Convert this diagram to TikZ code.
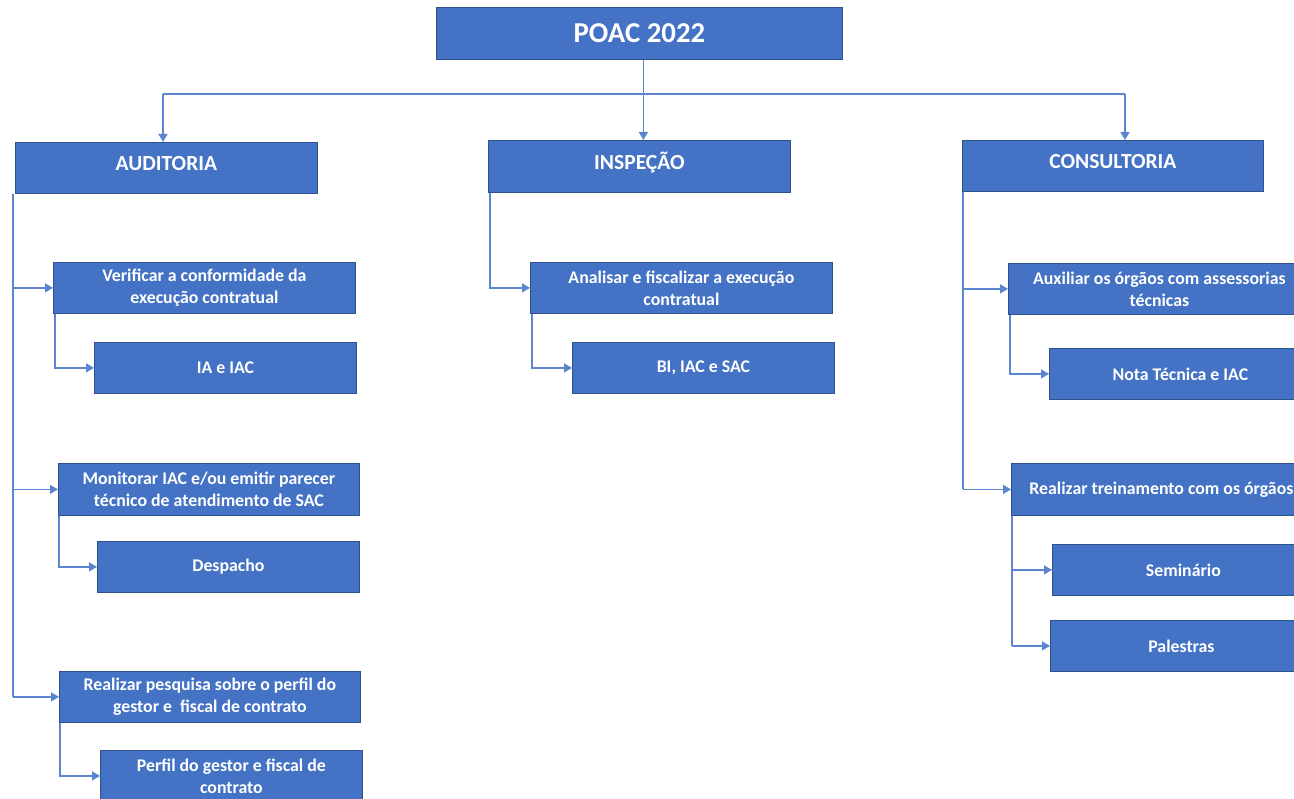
\documentclass[tikz,border=0pt]{standalone}
\usepackage{fontspec}
\setmainfont{Carlito}
\usetikzlibrary{arrows.meta}
\definecolor{boxblue}{HTML}{4472C4}
\definecolor{boxedge}{HTML}{2F528F}
\definecolor{linkblue}{HTML}{5B86CF}
\tikzset{
  box/.style={draw=boxedge, line width=0.8pt, fill=boxblue, text=white, align=center,
    inner sep=0pt, anchor=north west, font=\bfseries\fontsize{17.8}{22}\selectfont},
  headbox/.style={box, font=\bfseries\fontsize{21.5}{23}\selectfont, text height=15pt, text depth=9pt},
  link/.style={draw=linkblue, line width=1.3pt},
  arr/.style={link, -{Triangle[width=9pt,length=8pt]}}
}
\begin{document}
\begin{tikzpicture}[x=1pt,y=-1pt]
\clip (0,0) rectangle (1294,799);
\fill[white] (0,0) rectangle (1294,799);

% top
\node[box, minimum width=406pt, minimum height=52pt, font=\bfseries\fontsize{28.8}{32}\selectfont] (poac) at (436,7) {POAC 2022};

% category boxes
\node[headbox, minimum width=302pt, minimum height=51pt] (aud) at (15,142) {AUDITORIA};
\node[headbox, minimum width=302pt, minimum height=52pt] (insp) at (488,140) {INSPEÇÃO};
\node[headbox, minimum width=301pt, minimum height=51pt] (cons) at (962,140) {CONSULTORIA};

% auditoria children
\node[box, minimum width=302pt, minimum height=51pt] (a1) at (53,262) {Verificar a conformidade da\\execução contratual};
\node[box, minimum width=262pt, minimum height=51pt] (a1c) at (94,342) {IA e IAC};
\node[box, minimum width=301pt, minimum height=52pt] (a2) at (58,463) {Monitorar IAC e/ou emitir parecer\\técnico de atendimento de SAC};
\node[box, minimum width=262pt, minimum height=51pt] (a2c) at (97,541) {Despacho};
\node[box, minimum width=301pt, minimum height=51pt] (a3) at (59,671) {Realizar pesquisa sobre o perfil do\\gestor e \ fiscal de contrato};
\node[box, minimum width=262pt, minimum height=51pt] (a3c) at (100,750) {Perfil do gestor e fiscal de\\contrato};

% inspecao children
\node[box, minimum width=302pt, minimum height=51pt] (i1) at (530,262) {Analisar e fiscalizar a execução\\contratual};
\node[box, minimum width=262pt, minimum height=51pt] (i1c) at (572,342) {BI, IAC e SAC};

% consultoria children
\node[box, minimum width=302pt, minimum height=51pt] (c1) at (1008,263) {Auxiliar os órgãos com assessorias\\técnicas};
\node[box, minimum width=262pt, minimum height=51pt] (c1c) at (1049,348) {Nota Técnica e IAC};
\node[box, minimum width=300pt, minimum height=52pt] (c2) at (1011,463) {Realizar treinamento com os órgãos};
\node[box, minimum width=262pt, minimum height=51pt] (c2a) at (1052,544) {Seminário};
\node[box, minimum width=262pt, minimum height=51pt] (c2b) at (1050,620) {Palestras};

% top connectors
\coordinate (busL) at (163,94);
\coordinate (busR) at (1125,94);
\draw[link] (busL) -- (busR);
\draw[arr] ([xshift=4pt]poac.south) -- ([xshift=4pt]insp.north);
\draw[arr] (busL) -- (busL |- aud.north);
\draw[arr] (busR) -- (busR |- cons.north);

% auditoria connectors
\coordinate (audbar) at ([xshift=-2pt]aud.south west);
\draw[link] (audbar) -- (audbar |- a3.west);
\draw[arr] (audbar |- a1.west) -- (a1.west);
\draw[arr] (audbar |- a2.west) -- (a2.west);
\draw[arr] (audbar |- a3.west) -- (a3.west);
\draw[arr] ([xshift=2pt]a1.south west) |- (a1c.west);
\draw[arr] ([xshift=1pt]a2.south west) |- (a2c.west);
\draw[arr] ([xshift=1pt]a3.south west) |- (a3c.west);

% inspecao connectors
\draw[arr] ([xshift=2pt]insp.south west) |- (i1.west);
\draw[arr] ([xshift=2pt]i1.south west) |- (i1c.west);

% consultoria connectors
\coordinate (consbar) at ([xshift=1pt]cons.south west);
\draw[link] (consbar) -- (consbar |- c2.west);
\draw[arr] (consbar |- c1.west) -- (c1.west);
\draw[arr] (consbar |- c2.west) -- (c2.west);
\draw[arr] ([xshift=2pt]c1.south west) |- (c1c.west);
\coordinate (c2bar) at ([xshift=1pt]c2.south west);
\draw[link] (c2bar) -- (c2bar |- c2b.west);
\draw[arr] (c2bar |- c2a.west) -- (c2a.west);
\draw[arr] (c2bar |- c2b.west) -- (c2b.west);
\end{tikzpicture}
\end{document}
